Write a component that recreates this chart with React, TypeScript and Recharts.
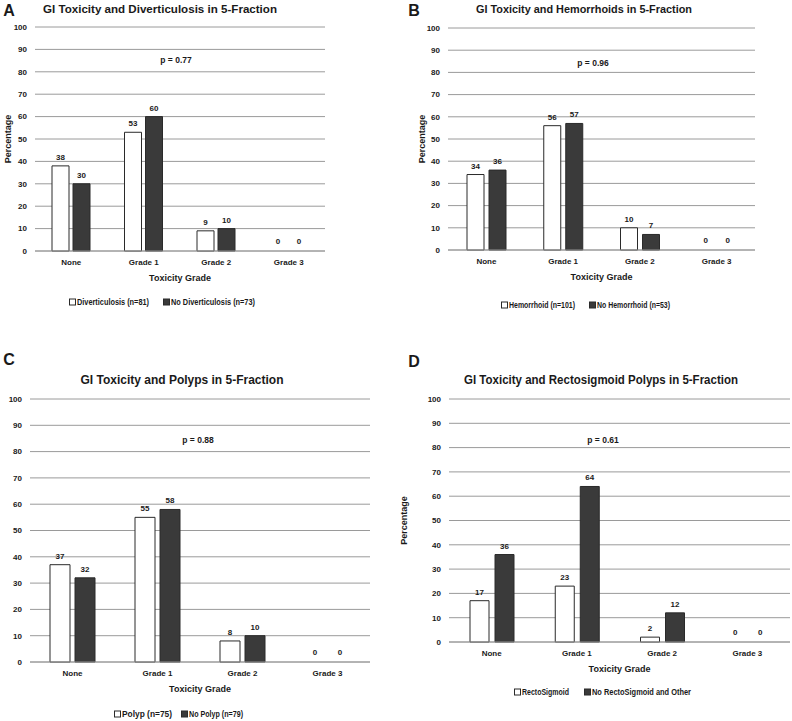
import { BarChart, Bar, Cell, XAxis, YAxis, CartesianGrid, LabelList } from 'recharts'

const grades = ['None', 'Grade 1', 'Grade 2', 'Grade 3']
const percentTicks = [0, 10, 20, 30, 40, 50, 60, 70, 80, 90, 100]

// panel A
const diverticulosis = [38, 53, 9, 0]
const noDiverticulosis = [30, 60, 10, 0]
// panel B
const hemorrhoid = [34, 56, 10, 0]
const noHemorrhoid = [36, 57, 7, 0]
// panel C
const polyp = [37, 55, 8, 0]
const noPolyp = [32, 58, 10, 0]
// panel D
const rectoSigmoid = [17, 23, 2, 0]
const noRectoSigmoid = [36, 64, 12, 0]

const FONT = '"Liberation Sans Narrow", "Liberation Sans", Arial, sans-serif'
const INK = '#1a1a1a'
const DARK = '#3a3a3a'
const EDGE = '#2a2a2a'
const GRID = '#9a9a9a'

const toRows = (a: number[], b: number[]) =>
  grades.map((g, i) => ({ grade: g, a: a[i], b: b[i] }))

// zero bars get a 1px invisible stub so their "0" label is still placed
const zeroStub = (v: unknown) => (v === 0 ? 1 : 0)

interface PanelProps {
  left: number
  top: number
  width: number
  height: number
  margin: { top: number; right: number; bottom: number; left: number }
  yWidth: number
  barSize: number
  barGap: number
  a: number[]
  b: number[]
  yLabel?: boolean
  yLabelOffset?: number
}

function Panel({ left, top, width, height, margin, yWidth, barSize, barGap, a, b, yLabel = true, yLabelOffset = 3 }: PanelProps) {
  const tick = { fontSize: 8, fill: INK, fontWeight: 700, fontFamily: FONT }
  const valueStyle = { fontSize: 8, fontWeight: 700, fill: INK, fontFamily: FONT }
  return (
    <div style={{ position: 'absolute', left, top }}>
      <BarChart width={width} height={height} data={toRows(a, b)} margin={margin}
        barSize={barSize} barGap={barGap}>
        <CartesianGrid vertical={false} stroke={GRID} strokeWidth={1} />
        <XAxis dataKey="grade" height={30} tick={tick} tickLine={false}
          axisLine={{ stroke: GRID }}
          label={{ value: 'Toxicity Grade', position: 'insideBottom', offset: 0,
            style: { fontSize: 9, fontWeight: 700, fill: INK, fontFamily: FONT } }} />
        <YAxis width={yWidth} domain={[0, 100]} ticks={percentTicks} interval={0}
          tick={tick} tickLine={false} axisLine={false}
          label={yLabel ? { value: 'Percentage', angle: -90, position: 'insideLeft', offset: yLabelOffset,
            style: { textAnchor: 'middle', fontSize: 9, fontWeight: 700, fill: INK, fontFamily: FONT } } : undefined} />
        <Bar dataKey="a" fill="#ffffff" stroke={EDGE} strokeWidth={1} minPointSize={zeroStub} isAnimationActive={false}>
          {a.map((v, i) => (
            <Cell key={i} fill={v === 0 ? 'none' : '#ffffff'} stroke={v === 0 ? 'none' : EDGE} />
          ))}
          <LabelList dataKey="a" position="top" offset={6} style={valueStyle} />
        </Bar>
        <Bar dataKey="b" fill={DARK} stroke={EDGE} strokeWidth={1} minPointSize={zeroStub} isAnimationActive={false}>
          {b.map((v, i) => (
            <Cell key={i} fill={v === 0 ? 'none' : DARK} stroke={v === 0 ? 'none' : EDGE} />
          ))}
          <LabelList dataKey="b" position="top" offset={6} style={valueStyle} />
        </Bar>
      </BarChart>
    </div>
  )
}

// titles, panel letters, p-values and legends drawn on top of the charts
function Title({ x, y, len, size, children }: { x: number; y: number; len: number; size: number; children: string }) {
  return (
    <text x={x} y={y} textAnchor="middle" dominantBaseline="central" fontSize={size} fontWeight={700}
      fontFamily={FONT} fill={INK} textLength={len} lengthAdjust="spacingAndGlyphs">{children}</text>
  )
}

function Letter({ x, y, children }: { x: number; y: number; children: string }) {
  return (
    <text x={x} y={y} textAnchor="middle" dominantBaseline="central" fontSize={16} fontWeight={700}
      fontFamily='"Liberation Sans", Arial, sans-serif' fill={INK}>{children}</text>
  )
}

function PValue({ x, y, children }: { x: number; y: number; children: string }) {
  return (
    <text x={x} y={y} textAnchor="middle" dominantBaseline="central" fontSize={8.5} fontWeight={700}
      fontFamily={FONT} fill={INK}>{children}</text>
  )
}

function LegendItem({ x, y, len, dark, children }: { x: number; y: number; len: number; dark?: boolean; children: string }) {
  return (
    <g>
      <rect x={x + 0.5} y={y - 3} width={6} height={6} fill={dark ? DARK : '#fff'} stroke={EDGE} strokeWidth={1} />
      <text x={x + 8} y={y} dominantBaseline="central" fontSize={8.5} fontWeight={700}
        fontFamily={FONT} fill={INK} textLength={len} lengthAdjust="spacingAndGlyphs">{children}</text>
    </g>
  )
}

export default function App() {
  return (
    <div style={{ position: 'absolute', left: 0, top: 0, width: 792, height: 721, background: '#fff' }}>
      <Panel left={0} top={0} width={396} height={320}
        margin={{ top: 27, right: 71, bottom: 39, left: 5 }} yWidth={30}
        barSize={17} barGap={4} a={diverticulosis} b={noDiverticulosis} yLabelOffset={3} />
      <Panel left={396} top={0} width={396} height={320}
        margin={{ top: 28, right: 37, bottom: 40, left: 22 }} yWidth={30}
        barSize={17} barGap={5} a={hemorrhoid} b={noHemorrhoid} yLabelOffset={4} />
      <Panel left={0} top={330} width={396} height={391}
        margin={{ top: 69, right: 26, bottom: 29, left: 5 }} yWidth={25}
        barSize={20} barGap={5} a={polyp} b={noPolyp} yLabel={false} />
      <Panel left={396} top={330} width={396} height={391}
        margin={{ top: 69, right: 2, bottom: 49, left: 8 }} yWidth={45}
        barSize={19} barGap={6} a={rectoSigmoid} b={noRectoSigmoid} yLabelOffset={0} />

      <svg width={792} height={721} style={{ position: 'absolute', left: 0, top: 0, pointerEvents: 'none' }}>
        <Letter x={9} y={10}>A</Letter>
        <Letter x={414} y={10}>B</Letter>
        <Letter x={9} y={359}>C</Letter>
        <Letter x={414} y={361}>D</Letter>

        <Title x={160} y={8.5} len={234} size={11.5}>GI Toxicity and Diverticulosis in 5-Fraction</Title>
        <Title x={584} y={9} len={216} size={11.5}>GI Toxicity and Hemorrhoids in 5-Fraction</Title>
        <Title x={182} y={379} len={203} size={13.5}>GI Toxicity and Polyps in 5-Fraction</Title>
        <Title x={601} y={379} len={274} size={13.5}>GI Toxicity and Rectosigmoid Polyps in 5-Fraction</Title>

        <PValue x={176} y={60}>p = 0.77</PValue>
        <PValue x={593} y={63}>p = 0.96</PValue>
        <PValue x={198} y={440}>p = 0.88</PValue>
        <PValue x={603} y={440}>p = 0.61</PValue>

        <LegendItem x={69} y={302} len={72}>Diverticulosis (n=81)</LegendItem>
        <LegendItem x={163} y={302} len={84} dark>No Diverticulosis (n=73)</LegendItem>
        <LegendItem x={501} y={305} len={66}>Hemorrhoid (n=101)</LegendItem>
        <LegendItem x={589} y={305} len={73} dark>No Hemorrhoid (n=53)</LegendItem>
        <LegendItem x={114} y={714} len={50}>Polyp (n=75)</LegendItem>
        <LegendItem x={181} y={714} len={54} dark>No Polyp (n=79)</LegendItem>
        <LegendItem x={514} y={692} len={47}>RectoSigmoid</LegendItem>
        <LegendItem x={584} y={692} len={99} dark>No RectoSigmoid and Other</LegendItem>
      </svg>
    </div>
  )
}
